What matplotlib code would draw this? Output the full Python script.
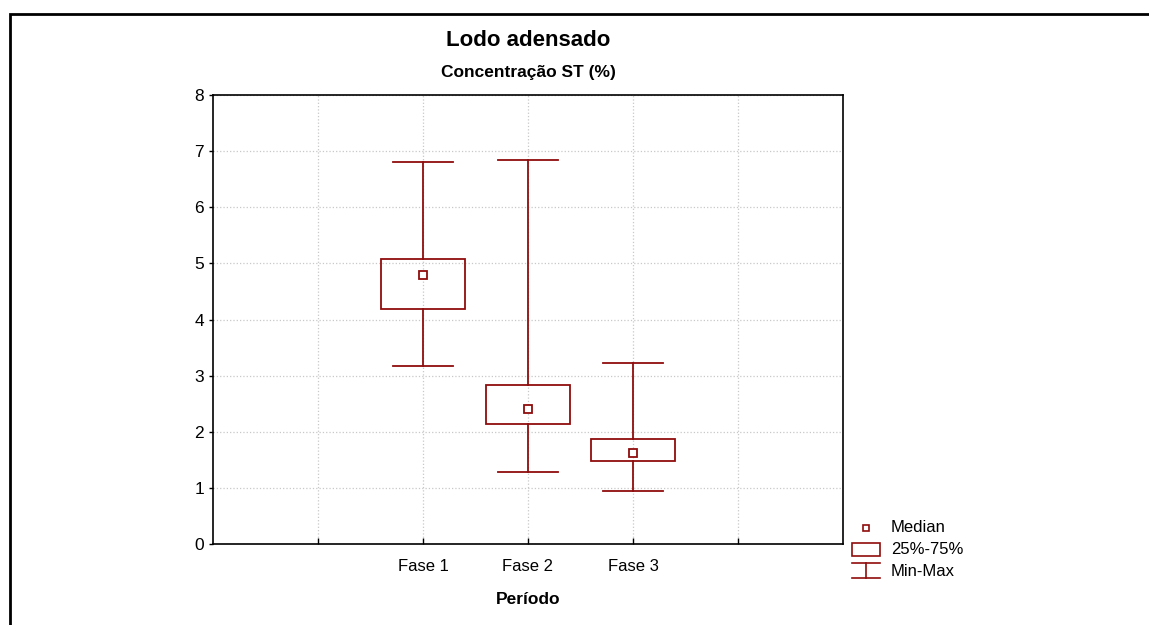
import matplotlib
matplotlib.use("Agg")
import matplotlib.pyplot as plt
from matplotlib.patches import Rectangle
from matplotlib.lines import Line2D

plt.rcParams['font.family'] = ['Liberation Sans', 'DejaVu Sans']

# values
phases = ['Fase 1', 'Fase 2', 'Fase 3']
mins = [3.17, 1.28, 0.94]
q1 = [4.19, 2.14, 1.47]
medians = [4.80, 2.40, 1.63]
q3 = [5.07, 2.83, 1.87]
maxs = [6.80, 6.85, 3.23]

COL = '#900c0c'
W, H = 1149, 625

fig = plt.figure(figsize=(W / 100, H / 100), dpi=100)
ax = fig.add_axes([213 / W, 1 - 544 / H, 630 / W, 449 / H])

xpos = [1, 2, 3]
box_w = 0.8
cap_w = 0.57
for x, lo, a, m, b, hi in zip(xpos, mins, q1, medians, q3, maxs):
    ax.add_patch(Rectangle((x - box_w / 2, a), box_w, b - a, fill=False,
                           edgecolor=COL, lw=1.3, zorder=3))
    ax.plot([x, x], [b, hi], color=COL, lw=1.3, zorder=3)
    ax.plot([x, x], [lo, a], color=COL, lw=1.3, zorder=3)
    ax.plot([x - cap_w / 2, x + cap_w / 2], [hi, hi], color=COL, lw=1.3, zorder=3)
    ax.plot([x - cap_w / 2, x + cap_w / 2], [lo, lo], color=COL, lw=1.3, zorder=3)
    ax.plot(x, m, 's', ms=6, mfc='white', mec=COL, mew=1.3, zorder=4)

ax.set_xlim(-1, 5)
ax.set_ylim(0, 8)
ax.set_xticks([0, 1, 2, 3, 4])
ax.set_xticklabels([''] + phases + [''], fontsize=12)
ax.set_yticks(range(9))
ax.tick_params(axis='y', labelsize=12.5, direction='out', length=3, width=1)
ax.tick_params(axis='x', direction='in', length=4, width=1, pad=11)
ax.grid(True, color='#c8c8c8', ls=':', lw=0.9, zorder=0)
for s in ax.spines.values():
    s.set_linewidth(1.2)
ax.set_xlabel('Período', fontsize=12.5, fontweight='bold', labelpad=13)

fig.text(528 / W, 1 - 40 / H, 'Lodo adensado', ha='center', va='center',
         fontsize=16, fontweight='bold')
fig.text(528 / W, 1 - 72 / H, 'Concentração ST (%)', ha='center', va='center',
         fontsize=12.5, fontweight='bold')

# outer frame
fig.add_artist(Rectangle((10 / W, -0.1), 1.2, 1 - 14 / H + 0.1, fill=False,
                         edgecolor='black', lw=2, transform=fig.transFigure))

# legend
def px(x, y):
    return x / W, 1 - y / H

lx = 866
fig.add_artist(Line2D([px(lx, 528)[0]], [px(lx, 528)[1]], marker='s', ms=5,
                      mfc='white', mec=COL, mew=1.2, transform=fig.transFigure))
fig.add_artist(Rectangle(px(852, 556), 28 / W, 13 / H, fill=False,
                         edgecolor=COL, lw=1.2, transform=fig.transFigure))
fig.add_artist(Line2D([852 / W, 880 / W], [1 - 563 / H] * 2, color=COL, lw=1.2,
                      transform=fig.transFigure))
fig.add_artist(Line2D([852 / W, 880 / W], [1 - 578 / H] * 2, color=COL, lw=1.2,
                      transform=fig.transFigure))
fig.add_artist(Line2D([866 / W, 866 / W], [1 - 563 / H, 1 - 578 / H], color=COL,
                      lw=1.2, transform=fig.transFigure))
for y, t in [(528, 'Median'), (549, '25%-75%'), (571, 'Min-Max')]:
    fig.text(891 / W, 1 - y / H, t, ha='left', va='center', fontsize=12)

fig.savefig('out.png', dpi=100)
